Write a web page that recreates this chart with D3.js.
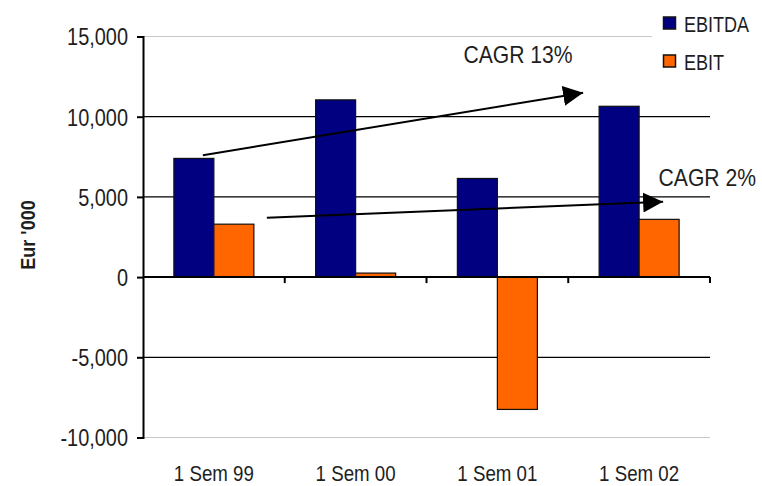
<!DOCTYPE html>
<html>
<head>
<meta charset="utf-8">
<script src="https://cdn.jsdelivr.net/npm/d3@7"></script>
<style>
  html, body { margin: 0; padding: 0; background: #fff; }
  svg text { font-family: "Liberation Sans", Arial, sans-serif; fill: #1e1e1e; }
</style>
</head>
<body>
<svg id="chart" width="762" height="486"></svg>
<script>
// Half-year results, thousands of euro
const periods = ["1 Sem 99", "1 Sem 00", "1 Sem 01", "1 Sem 02"];
const seriesNames = ["EBITDA", "EBIT"];
const ebitda = [7400, 11050, 6150, 10650];
const ebit = [3300, 250, -8250, 3600];
const yTicks = [-10000, -5000, 0, 5000, 10000, 15000];
const seriesColors = ["#000080", "#ff6600"];
const trendLabels = ["CAGR 13%", "CAGR 2%"];

const svg = d3.select("#chart");
const plotLeft = 143, plotRight = 710, plotTop = 36.5, plotBottom = 437.5;

// Narrow the regular sans glyphs horizontally to get a condensed face
function condense(sel, k) {
  sel.each(function () {
    const w = this.getComputedTextLength();
    d3.select(this).attr("textLength", w * k).attr("lengthAdjust", "spacingAndGlyphs");
  });
}

const locale = d3.formatLocale({ decimal: ".", thousands: ",", grouping: [3], currency: ["", ""], minus: "-" });
const fmt = locale.format(",");

const y = d3.scaleLinear().domain([-10000, 15000]).range([plotBottom, plotTop]);
const x0 = d3.scaleBand().domain(periods).range([plotLeft, plotRight]).paddingInner(0).paddingOuter(0);
const x1 = d3.scaleBand().domain(seriesNames).range([x0.bandwidth() / 2 - 40, x0.bandwidth() / 2 + 40]);

// Gridlines: the outer two are light grey, inner ones black
const grid = svg.append("g");
yTicks.forEach(t => {
  if (t === 0) return;
  const outer = (t === 15000 || t === -10000);
  grid.append("line")
    .attr("x1", plotLeft).attr("x2", t === 15000 ? 652 : plotRight)
    .attr("y1", y(t)).attr("y2", y(t))
    .attr("stroke", outer ? "#c8c8c8" : "#000")
    .attr("stroke-width", outer ? 1 : 1.3);
});

// Bars
const rows = periods.map((p, i) => ({ period: p, values: [ebitda[i], ebit[i]] }));
const groups = svg.append("g").selectAll("g").data(rows).join("g")
  .attr("transform", d => `translate(${x0(d.period)},0)`);
groups.selectAll("rect")
  .data(d => d.values.map((v, j) => ({ name: seriesNames[j], value: v, color: seriesColors[j] })))
  .join("rect")
  .attr("x", d => x1(d.name))
  .attr("width", x1.bandwidth())
  .attr("y", d => y(Math.max(0, d.value)))
  .attr("height", d => Math.abs(y(d.value) - y(0)))
  .attr("fill", d => d.color)
  .attr("stroke", "#111")
  .attr("stroke-width", 1.2);

// Y axis
const yAxis = d3.axisLeft(y).tickValues(yTicks).tickSize(6).tickPadding(9).tickFormat(fmt);
const gy = svg.append("g").attr("transform", `translate(${plotLeft},0)`).call(yAxis);
gy.select(".domain").attr("stroke", "#000").attr("stroke-width", 2);
gy.selectAll(".tick line").attr("stroke", "#000").attr("stroke-width", 2);
gy.selectAll(".tick text").attr("font-size", 24).attr("fill", "#1e1e1e").attr("dy", "0.35em")
  .style("font-family", "'Liberation Sans', Arial, sans-serif")
  .call(condense, 0.83);

// X axis along zero with ticks at category boundaries
const gx = svg.append("g").attr("transform", `translate(0,${y(0)})`);
gx.append("line").attr("x1", plotLeft).attr("x2", plotRight).attr("stroke", "#000").attr("stroke-width", 2);
periods.forEach(p => {
  const bx = x0(p) + x0.bandwidth();
  gx.append("line").attr("x1", bx).attr("x2", bx).attr("y1", 0).attr("y2", 6)
    .attr("stroke", "#000").attr("stroke-width", 2);
});

// Category labels
svg.append("g").selectAll("text").data(periods).join("text")
  .attr("x", d => x0(d) + x0.bandwidth() / 2)
  .attr("y", 481)
  .attr("text-anchor", "middle")
  .attr("font-size", 22)
  .text(d => d)
  .call(condense, 0.85);

// Y axis title
svg.append("text")
  .attr("transform", "translate(35,235) rotate(-90)")
  .attr("text-anchor", "middle")
  .attr("font-size", 21)
  .attr("font-weight", "bold")
  .text("Eur '000")
  .call(condense, 0.86);

// Trend arrows
const defs = svg.append("defs");
defs.append("marker").attr("id", "head")
  .attr("viewBox", "0 0 20 20").attr("refX", 20).attr("refY", 10)
  .attr("markerWidth", 20).attr("markerHeight", 20)
  .attr("markerUnits", "userSpaceOnUse").attr("orient", "auto")
  .append("path").attr("d", "M0,0 L20,10 L0,20 Z").attr("fill", "#000");

const xc = i => x0(periods[i]) + x0.bandwidth() / 2;
const arrows = [
  { from: [xc(0) - 11, 7600], to: [xc(3) - 56, 11500], label: trendLabels[0], lx: 518, ly: 63, anchor: "middle" },
  { from: [xc(0) + 53, 3700], to: [xc(3) + 24, 4700], label: trendLabels[1], lx: 756, ly: 185.5, anchor: "end" }
];
arrows.forEach(a => {
  svg.append("line")
    .attr("x1", a.from[0]).attr("y1", y(a.from[1]))
    .attr("x2", a.to[0]).attr("y2", y(a.to[1]))
    .attr("stroke", "#000").attr("stroke-width", 2)
    .attr("marker-end", "url(#head)");
  svg.append("text").attr("x", a.lx).attr("y", a.ly)
    .attr("text-anchor", a.anchor).attr("font-size", 24).text(a.label)
    .call(condense, 0.88);
});

// Legend
const legend = svg.append("g");
seriesNames.forEach((n, i) => {
  const ly0 = 17 + i * 38;
  legend.append("rect").attr("x", 663.5).attr("y", ly0).attr("width", 12).attr("height", 12)
    .attr("fill", seriesColors[i]).attr("stroke", "#111").attr("stroke-width", 1.5);
  legend.append("text").attr("x", 684).attr("y", ly0 + 14.5).attr("font-size", 22).text(n)
    .call(condense, 0.82);
});
</script>
</body>
</html>
